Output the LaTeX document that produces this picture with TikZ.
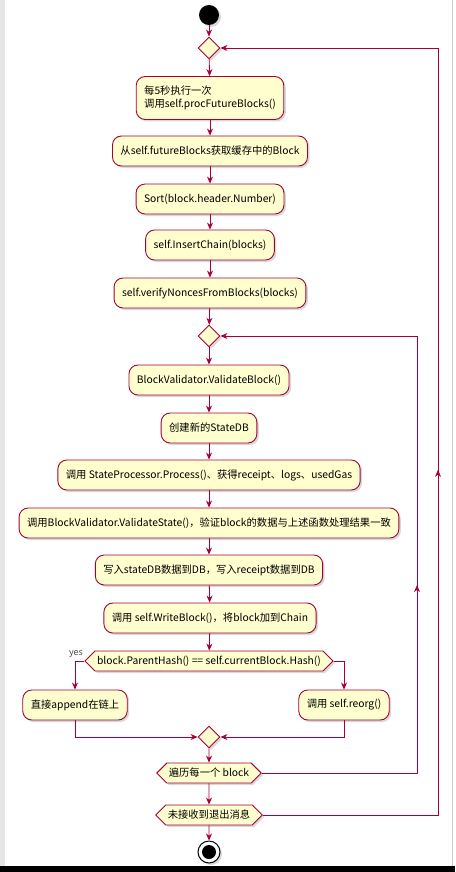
\documentclass[tikz,border=0pt]{standalone}
\usepackage{fontspec}
\setmainfont{Noto Sans CJK SC}
\usetikzlibrary{arrows.meta,shapes.geometric,shapes.symbols,shadows,decorations.markings}
\definecolor{umlred}{HTML}{A80036}
\definecolor{umlfill}{HTML}{FEFECE}
\tikzset{
	shade/.style={drop shadow={shadow xshift=2pt,shadow yshift=-2pt,opacity=0.3}},
	act/.style={draw=umlred,fill=umlfill,line width=0.9pt,rounded corners=9pt,minimum height=30pt,inner xsep=8pt,font=\fontsize{10.3}{13.5}\selectfont,shade},
	cond/.style={act,rounded corners=0pt,signal,signal to=west and east,minimum height=20pt,inner ysep=1pt,inner xsep=2pt},
	merge/.style={draw=umlred,fill=umlfill,line width=0.9pt,diamond,minimum width=22pt,minimum height=22pt,inner sep=0pt,shade},
	start/.style={circle,fill=black,minimum size=20pt,inner sep=0pt,shade},
	stop/.style={circle,draw=black,line width=1pt,fill=white,minimum size=22pt,inner sep=0pt,shade,
		path picture={\fill[black] (path picture bounding box.center) circle (7pt);}},
	flow/.style={draw=umlred,line width=0.8pt,-{Stealth[length=7pt,width=6pt]}},
	midarrow/.style={draw=umlred,line width=0.8pt,postaction=decorate,
		decoration={markings,mark=at position #1 with {\arrow[umlred]{Stealth[length=7pt,width=6pt]}}}},
}

\begin{document}
\begin{tikzpicture}[x=1pt,y=-1pt]
	\useasboundingbox (0,0) rectangle (455,872);
	\fill[white] (0,0) rectangle (455,872);
	\fill[gray!20] (0,0) rectangle (5,866);
	\draw[gray!40] (452,0) -- (452,866);
	\fill[black] (0,866) rectangle (455,872);

	\node[start] (start) at (209,15) {};
	\node[merge] (d1) at (209,48) {};
	\node[act,align=left,minimum height=43pt] (futtick) at (210,98) {每5秒执行一次\\调用self.procFutureBlocks()};
	\node[act] (getfut) at (210,151) {从self.futureBlocks获取缓存中的Block};
	\node[act] (sortb) at (210,199) {Sort(block.header.Number)};
	\node[act] (insch) at (210,245) {self.InsertChain(blocks)};
	\node[act] (vnonce) at (210,293) {self.verifyNoncesFromBlocks(blocks)};
	\node[merge] (d2) at (209,336) {};
	\node[act] (valblk) at (209,380) {BlockValidator.ValidateBlock()};
	\node[act] (newdb) at (209,428) {创建新的StateDB};
	\node[act] (proc) at (209,475) {调用 StateProcessor.Process()、获得receipt、logs、usedGas};
	\node[act] (valst) at (209,523) {调用BlockValidator.ValidateState()，验证block的数据与上述函数处理结果一致};
	\node[act] (wrdb) at (209,570) {写入stateDB数据到DB，写入receipt数据到DB};
	\node[act] (wrblk) at (210,618) {调用 self.WriteBlock()，将block加到Chain};
	\node[cond] (parent) at (209,661) {block.ParentHash() == self.currentBlock.Hash()};
	\node[act] (append) at (75,705) {直接append在链上};
	\node[act] (reorg) at (344,705) {调用 self.reorg()};
	\node[merge] (d3) at (209,737) {};
	\node[cond] (iter) at (209,773) {遍历每一个 block};
	\node[cond] (quit) at (209,815) {未接收到退出消息};
	\node[stop] (stop) at (209,852) {};
	\node[font=\fontsize{9}{10}\selectfont,text=black!70,inner sep=1pt] (yes) at (76,654) {yes};

	\foreach \a/\b in {start/d1,d1/futtick,futtick/getfut,getfut/sortb,sortb/insch,insch/vnonce,vnonce/d2,
		d2/valblk,valblk/newdb,newdb/proc,proc/valst,valst/wrdb,wrdb/wrblk,wrblk/parent,d3/iter,iter/quit,quit/stop}
		\draw[flow] (\a) -- (\b);
	\draw[flow] (parent.west) -| (append.north);
	\draw[flow] (parent.east) -| (reorg.north);
	\draw[flow] (append.south) |- (d3.west);
	\draw[flow] (reorg.south) |- (d3.east);

	% loops back
	\coordinate (innerR) at (417,336);
	\coordinate (outerR) at (438,48);
	\draw[flow] (iter.east) -| (innerR) -- (d2.east);
	\path[midarrow=0.43] (iter.east -| innerR) -- (innerR);
	\draw[flow] (quit.east) -| (outerR) -- (d1.east);
	\path[midarrow=0.45] (quit.east -| outerR) -- (outerR);
\end{tikzpicture}
\end{document}
